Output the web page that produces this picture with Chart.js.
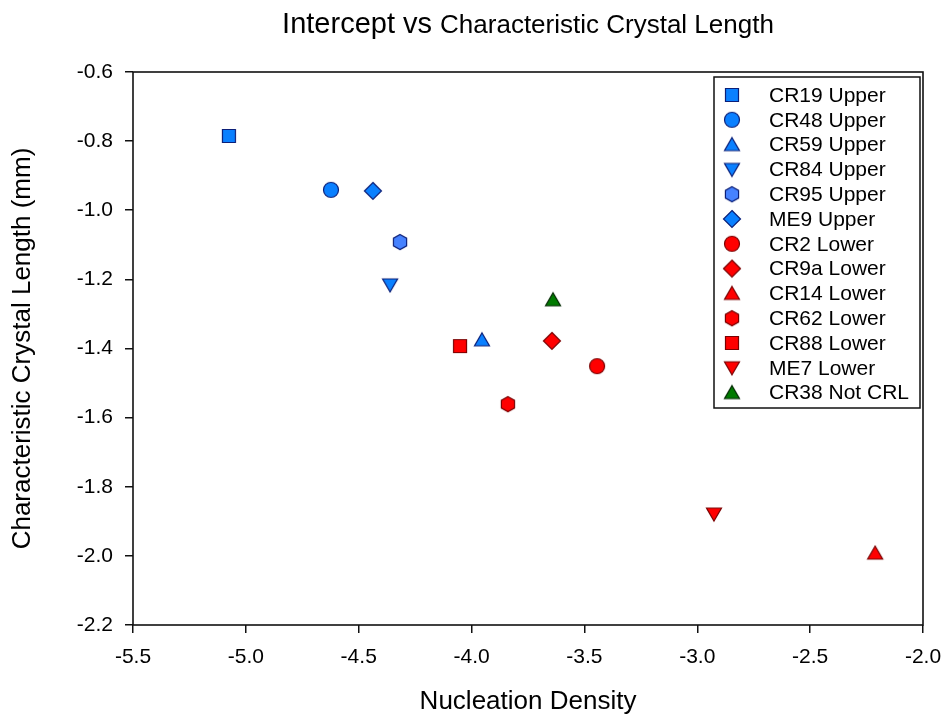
<!DOCTYPE html>
<html>
<head>
<meta charset="utf-8">
<title>Intercept vs Characteristic Crystal Length</title>
<script src="https://cdn.jsdelivr.net/npm/chart.js@4.4.1/dist/chart.umd.min.js"></script>
<style>
  html, body { margin: 0; padding: 0; background: #fff; }
  canvas { display: block; }
</style>
</head>
<body>
<canvas id="chart" width="945" height="717"></canvas>
<script>
(function(){
  const FONT = "'Liberation Sans', Arial, Helvetica, sans-serif";

  // one point per sample
  const sampleLabels = ['CR19 Upper', 'CR48 Upper', 'CR59 Upper', 'CR84 Upper', 'CR95 Upper', 'ME9 Upper',
    'CR2 Lower', 'CR9a Lower', 'CR14 Lower', 'CR62 Lower', 'CR88 Lower', 'ME7 Lower', 'CR38 Not CRL'];
  const nucleationDensity = [-5.075, -4.623, -3.954, -4.361, -4.317, -4.437,
    -3.444, -3.644, -2.212, -3.839, -4.051, -2.926, -3.639];
  const crystalLength = [-0.785, -0.941, -1.375, -1.216, -1.092, -0.944,
    -1.451, -1.378, -1.992, -1.561, -1.393, -1.879, -1.259];
  const markerShapes = ['square', 'circle', 'triUp', 'triDown', 'hexagon', 'diamond',
    'circle', 'diamond', 'triUp', 'hexagon', 'square', 'triDown', 'triUp'];
  const groups = ['upper', 'upper', 'upper', 'upper', 'upper95', 'upper',
    'lower', 'lower', 'lower', 'lower', 'lower', 'lower', 'other'];

  const xTicks = [-5.5, -5.0, -4.5, -4.0, -3.5, -3.0, -2.5, -2.0];
  const yTicks = [-0.6, -0.8, -1.0, -1.2, -1.4, -1.6, -1.8, -2.0, -2.2];

  const COLORS = {
    upper:   { fill: '#0a80ff', stroke: '#0b1f78' },
    upper95: { fill: '#4682ff', stroke: '#0b1f78' },
    lower:   { fill: '#ff0000', stroke: '#7a0000' },
    other:   { fill: '#007a00', stroke: '#002800' }
  };

  function makeMarker(shape, fill, stroke){
    const c = document.createElement('canvas');
    c.width = 20; c.height = 20;
    const g = c.getContext('2d');
    const cx = 10, cy = 10;
    g.beginPath();
    if (shape === 'square') {
      g.rect(cx - 6.5, cy - 6.5, 13, 13);
    } else if (shape === 'circle') {
      g.arc(cx, cy, 7.5, 0, Math.PI * 2);
    } else if (shape === 'triUp') {
      g.moveTo(cx, cy - 7); g.lineTo(cx + 7.5, cy + 6); g.lineTo(cx - 7.5, cy + 6); g.closePath();
    } else if (shape === 'triDown') {
      g.moveTo(cx, cy + 7); g.lineTo(cx + 7.5, cy - 6); g.lineTo(cx - 7.5, cy - 6); g.closePath();
    } else if (shape === 'hexagon') {
      for (let i = 0; i < 6; i++) {
        const a = -Math.PI / 2 + i * Math.PI / 3;
        const px = cx + 7.6 * Math.cos(a), py = cy + 7.6 * Math.sin(a);
        if (i === 0) g.moveTo(px, py); else g.lineTo(px, py);
      }
      g.closePath();
    } else if (shape === 'diamond') {
      g.moveTo(cx, cy - 8.5); g.lineTo(cx + 8.5, cy); g.lineTo(cx, cy + 8.5); g.lineTo(cx - 8.5, cy); g.closePath();
    }
    g.fillStyle = fill;
    g.fill();
    g.lineWidth = 1.2;
    g.strokeStyle = stroke;
    g.stroke();
    return c;
  }

  const datasets = sampleLabels.map((label, i) => {
    const col = COLORS[groups[i]];
    return {
      label: label,
      data: [{ x: nucleationDensity[i], y: crystalLength[i] }],
      pointStyle: makeMarker(markerShapes[i], col.fill, col.stroke),
      pointRadius: 8,
      pointHoverRadius: 8
    };
  });

  // title in two sizes, centred over the plot area
  const titlePlugin = {
    id: 'twoSizeTitle',
    afterDraw(chart){
      const ctx = chart.ctx;
      const a = chart.chartArea;
      const part1 = 'Intercept vs ', part2 = 'Characteristic Crystal Length';
      ctx.save();
      ctx.fillStyle = '#000';
      ctx.textBaseline = 'alphabetic';
      ctx.font = '29px ' + FONT;
      const w1 = ctx.measureText(part1).width;
      ctx.font = '26px ' + FONT;
      const w2 = ctx.measureText(part2).width;
      const x0 = (a.left + a.right) / 2 - (w1 + w2) / 2;
      ctx.textAlign = 'left';
      ctx.font = '29px ' + FONT;
      ctx.fillText(part1, x0, 33);
      ctx.font = '26px ' + FONT;
      ctx.fillText(part2, x0 + w1, 33);
      ctx.restore();
    }
  };

  // frame round the plot area
  const framePlugin = {
    id: 'frame',
    beforeDatasetsDraw(chart){
      const ctx = chart.ctx;
      const a = chart.chartArea;
      ctx.save();
      ctx.strokeStyle = '#111';
      ctx.lineWidth = 1.6;
      ctx.strokeRect(a.left, a.top, a.right - a.left, a.bottom - a.top);
      ctx.restore();
    }
  };

  // boxed legend inside the plot, top right
  const legendPlugin = {
    id: 'insideLegend',
    afterDraw(chart){
      const ctx = chart.ctx;
      const box = { x: 714, y: 77, w: 206, h: 331 };
      ctx.save();
      ctx.fillStyle = '#fff';
      ctx.fillRect(box.x, box.y, box.w, box.h);
      ctx.strokeStyle = '#111';
      ctx.lineWidth = 1.5;
      ctx.strokeRect(box.x, box.y, box.w, box.h);
      ctx.font = '21px ' + FONT;
      ctx.fillStyle = '#000';
      ctx.textBaseline = 'middle';
      ctx.textAlign = 'left';
      chart.data.datasets.forEach((ds, i) => {
        const cy = 95 + i * 24.8;
        const img = ds.pointStyle;
        ctx.drawImage(img, 732 - img.width / 2, cy - img.height / 2);
        ctx.fillText(ds.label, 769, cy + 1);
      });
      ctx.restore();
    }
  };

  new Chart(document.getElementById('chart'), {
    type: 'scatter',
    data: { datasets: datasets },
    options: {
      responsive: false,
      animation: false,
      layout: { padding: { top: 72, right: 22, left: 0, bottom: 0 } },
      plugins: {
        legend: { display: false },
        title: { display: false },
        tooltip: { enabled: false }
      },
      scales: {
        x: {
          type: 'linear',
          min: xTicks[0],
          max: xTicks[xTicks.length - 1],
          afterBuildTicks: (scale) => { scale.ticks = xTicks.map(v => ({ value: v })); },
          afterFit: (scale) => { scale.height = 92; scale.paddingLeft = 0; scale.paddingRight = 0; },
          border: { display: false },
          grid: { drawOnChartArea: false, drawTicks: true, tickLength: 8, color: '#111', lineWidth: 1.5 },
          ticks: {
            color: '#000',
            padding: 12,
            font: { family: FONT, size: 21 },
            callback: (v) => Number(v).toFixed(1)
          },
          title: {
            display: true,
            text: 'Nucleation Density',
            color: '#000',
            font: { family: FONT, size: 26 },
            padding: { top: 0, bottom: 0 }
          }
        },
        y: {
          type: 'linear',
          min: yTicks[yTicks.length - 1],
          max: yTicks[0],
          afterBuildTicks: (scale) => { scale.ticks = yTicks.map(v => ({ value: v })); },
          afterFit: (scale) => { scale.width = 133; scale.paddingTop = 0; scale.paddingBottom = 0; },
          border: { display: false },
          grid: { drawOnChartArea: false, drawTicks: true, tickLength: 8, color: '#111', lineWidth: 1.5 },
          ticks: {
            color: '#000',
            padding: 12,
            font: { family: FONT, size: 21 },
            callback: (v) => Number(v).toFixed(1)
          },
          title: {
            display: true,
            text: 'Characteristic Crystal Length (mm)',
            color: '#000',
            font: { family: FONT, size: 26 },
            padding: { top: 7, bottom: 0 }
          }
        }
      }
    },
    plugins: [framePlugin, titlePlugin, legendPlugin]
  });
})();
</script>
</body>
</html>
